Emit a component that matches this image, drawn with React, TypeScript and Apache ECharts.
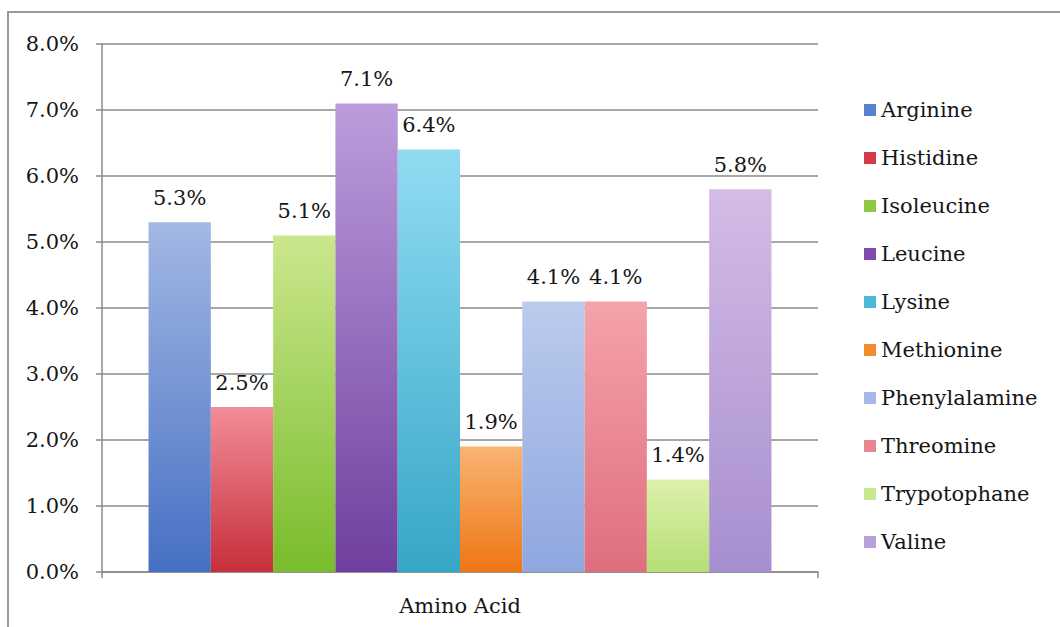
import React, { useEffect, useRef } from "react";
import * as echarts from "echarts";

const categories = ["Amino Acid"];
const seriesNames = [
  "Arginine",
  "Histidine",
  "Isoleucine",
  "Leucine",
  "Lysine",
  "Methionine",
  "Phenylalamine",
  "Threomine",
  "Trypotophane",
  "Valine",
];
const seriesValues = [5.3, 2.5, 5.1, 7.1, 6.4, 1.9, 4.1, 4.1, 1.4, 5.8];
const topColors = ["#a3b8e4", "#f28d99", "#cbe78e", "#bb9ddb", "#90dcf2", "#f9b474", "#bccbed", "#f5a3ab", "#dcf1ab", "#d3bce6"];
const bottomColors = ["#4670c4", "#c62f3b", "#79bc2c", "#6f3f9f", "#36a6c7", "#ef7614", "#8fa7df", "#df6e7e", "#b6de76", "#a78ecf"];
const legendColors = ["#5a82cc", "#d43a48", "#8cc840", "#7e4cae", "#4cb8d8", "#f38a2e", "#a6b9e6", "#e98590", "#c8e890", "#b8a0da"];
const yTicks = [0, 1, 2, 3, 4, 5, 6, 7, 8];

const FONT = "DejaVu Serif";
const FS = 21;
const TXT = "#161616";

export default function App() {
  const ref = useRef<HTMLDivElement>(null);
  useEffect(() => {
    if (!ref.current) return;
    const chart = echarts.init(ref.current, null, { renderer: "svg" });
    const series = seriesNames.map((name, i) => ({
      name,
      type: "bar",
      data: [seriesValues[i]],
      barGap: "0%",
      barCategoryGap: "13%",
      itemStyle: {
        color: new echarts.graphic.LinearGradient(0, 0, 0, 1, [
          { offset: 0, color: topColors[i] },
          { offset: 1, color: bottomColors[i] },
        ]),
      },
      label: {
        show: true,
        position: "top",
        distance: 14,
        fontFamily: FONT,
        fontSize: FS,
        color: TXT,
        formatter: (p: any) => `${Number(p.value).toFixed(1)}%`,
      },
    }));
    chart.setOption({
      animation: false,
      backgroundColor: "#ffffff",
      textStyle: { fontFamily: FONT },
      graphic: [
        {
          type: "rect",
          shape: { x: 8, y: 12, width: 1200, height: 800 },
          style: { fill: "none", stroke: "#9a9a9a", lineWidth: 2 },
          silent: true,
        },
      ],
      grid: { left: 102, right: 242, top: 44, bottom: 55, containLabel: false },
      legend: {
        orient: "vertical",
        left: 864,
        top: 98,
        padding: 0,
        itemWidth: 12,
        itemHeight: 12,
        itemGap: 24,
        icon: "rect",
        data: seriesNames.map((name, i) => ({ name, itemStyle: { color: legendColors[i] } })),
        textStyle: { fontFamily: FONT, fontSize: FS, color: TXT, lineHeight: 24 },
      },
      xAxis: {
        type: "category",
        data: categories,
        axisLine: { show: true, lineStyle: { color: "#8a8a8a", width: 1.5 } },
        axisTick: { show: true, length: 6, lineStyle: { color: "#8a8a8a", width: 1.5 } },
        axisLabel: { fontFamily: FONT, fontSize: FS, color: TXT, margin: 23 },
      },
      yAxis: {
        type: "value",
        min: yTicks[0],
        max: yTicks[yTicks.length - 1],
        interval: 1,
        axisLine: { show: true, lineStyle: { color: "#8a8a8a", width: 1.5 } },
        axisTick: { show: true, length: 6, lineStyle: { color: "#8a8a8a", width: 1.5 } },
        splitLine: { show: true, lineStyle: { color: "#8a8a8a", width: 1.5 } },
        axisLabel: {
          fontFamily: FONT,
          fontSize: FS,
          color: TXT,
          margin: 23,
          formatter: (v: number) => `${v.toFixed(1)}%`,
        },
      },
      series,
    });
    return () => chart.dispose();
  }, []);
  return (
    <div
      ref={ref}
      style={{ position: "absolute", left: 0, top: 0, width: 1060, height: 627 }}
    />
  );
}
